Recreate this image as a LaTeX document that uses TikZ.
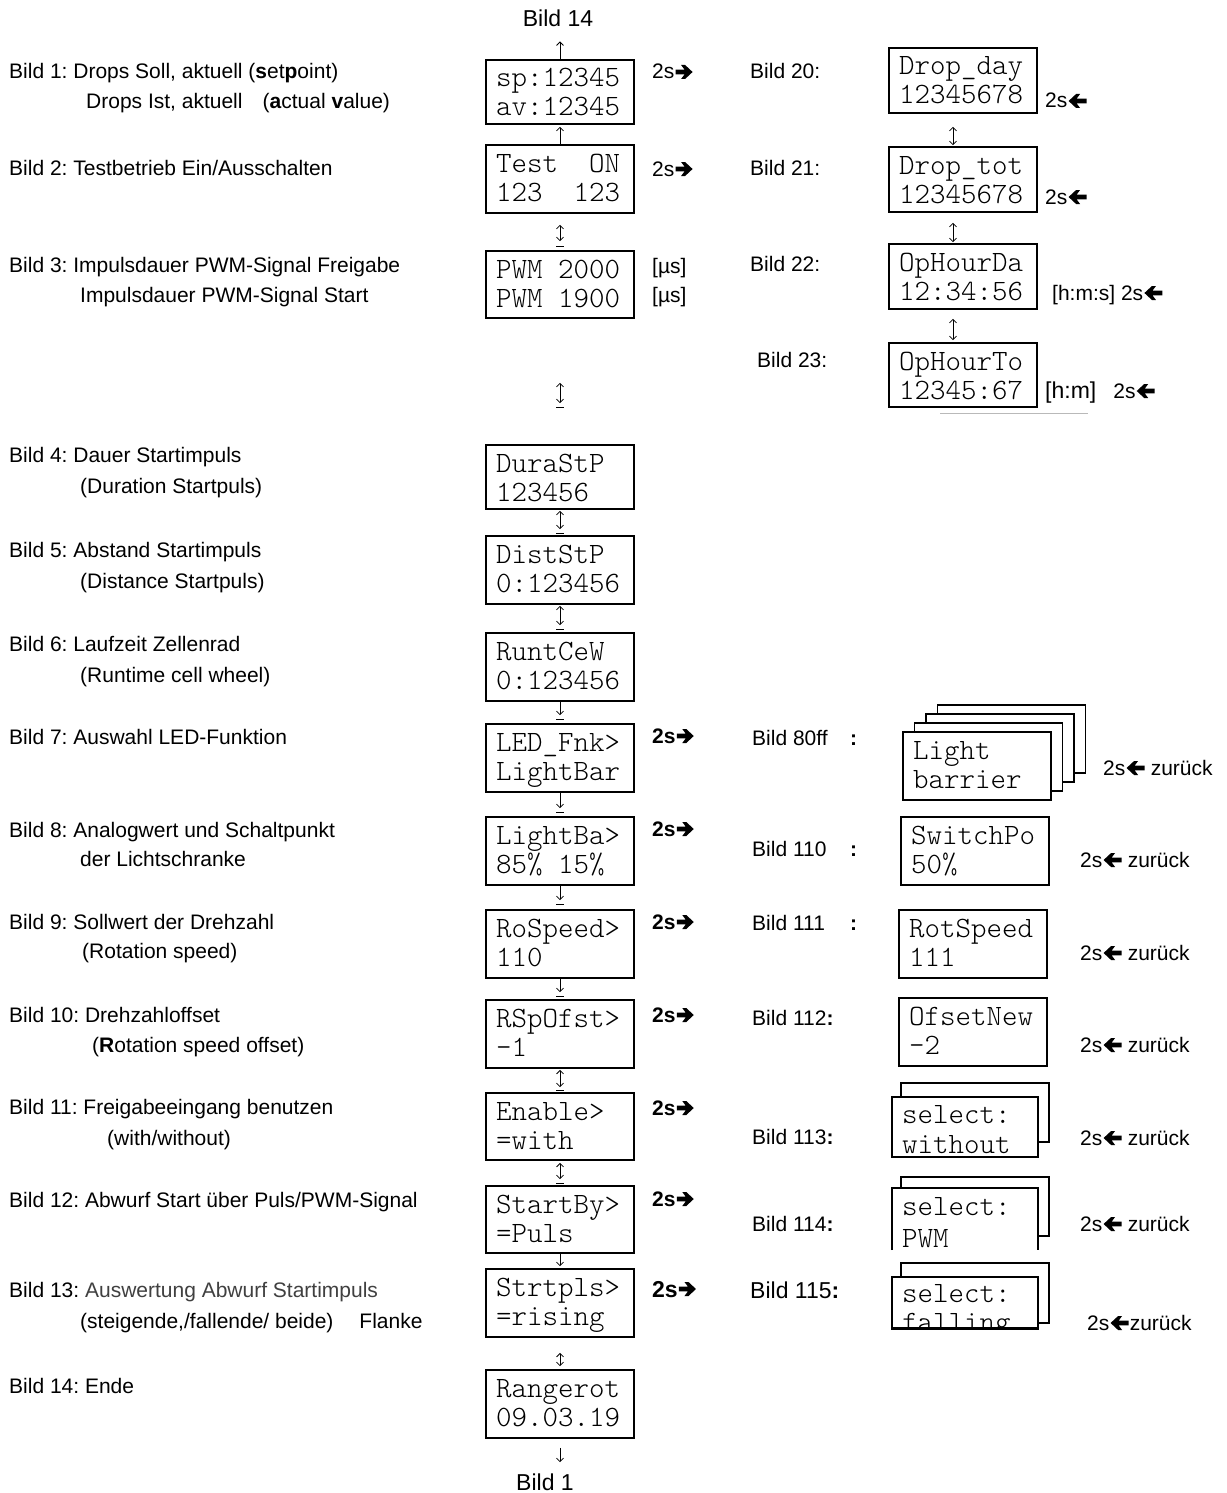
\documentclass[tikz,border=0pt]{standalone}
\usepackage{fontspec}
\setmainfont{Liberation Sans}
\newfontfamily\lcdfont{Latin Modern Mono Light}
\usetikzlibrary{arrows.meta,fit,calc}
\definecolor{greytxt}{RGB}{64,64,64}
\definecolor{lightline}{RGB}{185,185,185}
\newcommand{\mklcd}[7]{%
  \node[lcdbox, fit={(#2,#3) (#4,#5)}] (#1) {};
  \node[lcdtext] (#1t) at ($(#2,#3)+(10,27)$) {#6};
  \node[lcdtext] (#1u) at ($(#2,#3)+(10,56)$) {#7};}
\newcommand{\ulbar}[2]{\draw[vline] (#1-4,#2) -- (#1+4,#2);}
\begin{document}
\frenchspacing
\begin{tikzpicture}[x=1pt,y=-1pt,
  lcdbox/.style={draw, line width=1.7pt, fill=white, inner sep=0pt},
  backbox/.style={draw, line width=1.4pt, fill=white, inner sep=0pt},
  lcdtext/.style={anchor=base west, inner sep=0pt, font=\fontsize{29.5}{32}\selectfont\lcdfont},
  lbl/.style={anchor=base west, inner sep=0pt, font=\fontsize{21}{24}\selectfont},
  note/.style={anchor=base west, inner sep=0pt, font=\fontsize{21}{24}\selectfont},
  bnote/.style={anchor=base west, inner sep=0pt, font=\fontsize{21}{24}\selectfont\bfseries},
  vline/.style={line width=0.8pt},
  updown/.style={vline, {Straight Barb[length=3.5pt,width=7pt]}-{Straight Barb[length=3.5pt,width=7pt]}},
  down/.style={vline, -{Straight Barb[length=3.5pt,width=7pt]}},
  rarr/.pic={\fill (0,-2.3) -- (9,-2.3) -- (5.5,-7) -- (9.5,-7) -- (17,0) -- (9.5,7) -- (5.5,7) -- (9,2.3) -- (0,2.3) -- cycle;},
  larr/.pic={\fill (0,0) -- (7.5,-7) -- (11.5,-7) -- (8,-2.3) -- (18,-2.3) -- (18,2.3) -- (8,2.3) -- (11.5,7) -- (7.5,7) -- cycle;}
]
\fill[white] (0,0) rectangle (1226,1493);
\useasboundingbox (0,0) rectangle (1226,1493);

% ---------------- left labels ----------------
\node[lbl] (l1a) at (9,79) {Bild 1: Drops Soll, aktuell (\textbf{s}et\textbf{p}oint)};
\node[lbl] (l1b) at (86,109) {Drops Ist, aktuell\hspace{20pt}(\textbf{a}ctual \textbf{v}alue)};
\node[lbl] (l2) at (9,175) {Bild 2: Testbetrieb Ein/Ausschalten};
\node[lbl] (l3a) at (9,272) {Bild 3: Impulsdauer PWM-Signal Freigabe};
\node[lbl] (l3b) at (80,302) {Impulsdauer PWM-Signal Start};
\node[lbl] (l4a) at (9,462) {Bild 4: Dauer Startimpuls};
\node[lbl] (l4b) at (80,493) {(Duration Startpuls)};
\node[lbl] (l5a) at (9,557) {Bild 5: Abstand Startimpuls};
\node[lbl] (l5b) at (80,588) {(Distance Startpuls)};
\node[lbl] (l6a) at (9,651) {Bild 6: Laufzeit Zellenrad};
\node[lbl] (l6b) at (80,682) {(Runtime cell wheel)};
\node[lbl] (l7) at (9,744) {Bild 7: Auswahl LED-Funktion};
\node[lbl] (l8a) at (9,837) {Bild 8: Analogwert und Schaltpunkt};
\node[lbl] (l8b) at (80,866) {der Lichtschranke};
\node[lbl] (l9a) at (9,929) {Bild 9: Sollwert der Drehzahl};
\node[lbl] (l9b) at (82,958) {(Rotation speed)};
\node[lbl] (l10a) at (9,1022) {Bild 10: Drehzahloffset};
\node[lbl] (l10b) at (92,1052) {(\textbf{R}otation speed offset)};
\node[lbl] (l11a) at (9,1114) {Bild 11: Freigabeeingang benutzen};
\node[lbl] (l11b) at (107,1145) {(with/without)};
\node[lbl] (l12) at (9,1207) {Bild 12: Abwurf Start über Puls/PWM-Signal};
\node[lbl] (l13a) at (9,1297) {Bild 13: \textcolor{greytxt}{Auswertung Abwurf Startimpuls}};
\node[lbl] (l13b) at (80,1328) {(steigende,/fallende/ beide)\hspace{26pt}Flanke};
\node[lbl] (l14) at (9,1393) {Bild 14: Ende};

% ---------------- middle column ----------------
\node[anchor=base, inner sep=0pt, font=\fontsize{23}{26}\selectfont] (t14) at (558,27) {Bild 14};
\node[anchor=base, inner sep=0pt, font=\fontsize{23}{26}\selectfont] (tb1) at (545,1490) {Bild 1};

\mklcd{b1}{486}{60}{634}{124}{sp:12345}{av:12345}
\mklcd{b2}{486}{145}{634}{213}{Test~~ON}{123~~123}
\mklcd{b3}{486}{251}{634}{318}{PWM 2000}{PWM 1900}
\mklcd{b4}{486}{445}{634}{509}{DuraStP}{123456}
\mklcd{b5}{486}{536}{634}{604}{DistStP}{0:123456}
\mklcd{b6}{486}{633}{634}{701}{RuntCeW}{0:123456}
\mklcd{b7}{486}{724}{634}{792}{LED\_Fnk>}{LightBar}
\mklcd{b8}{486}{817}{634}{885}{LightBa>}{85\% 15\%}
\mklcd{b9}{486}{910}{634}{978}{RoSpeed>}{110}
\mklcd{b10}{486}{1000}{634}{1068}{RSpOfst>}{-1}
\mklcd{b11}{486}{1093}{634}{1160}{Enable>}{=with}
\mklcd{b12}{486}{1186}{634}{1253}{StartBy>}{=Puls}
\mklcd{b13}{486}{1269}{634}{1337}{Strtpls>}{=rising}
\mklcd{b14}{486}{1370}{634}{1438}{Rangerot}{09.03.19}

% connectors middle
\draw[down, shorten >=14pt] (b1.north) -- (b1.north |- t14.south);
\draw[down, shorten >=2pt] (b2.north) -- (b1.south);
\draw[updown, shorten <=11pt, shorten >=9pt] (b2.south) -- (b3.north);
\ulbar{560}{246}
\draw[updown, shorten <=64pt, shorten >=41pt] (b3.south) -- (b4.north);
\ulbar{560}{407}
\draw[updown, shorten <=1pt, shorten >=6pt] (b4.south) -- (b5.north);
\ulbar{560}{533}
\draw[updown, shorten <=1pt, shorten >=7pt] (b5.south) -- (b6.north);
\ulbar{560}{629}
\draw[down, shorten >=8pt] (b6.south) -- (b7.north);
\ulbar{560}{719}
\draw[down, shorten >=8pt] (b7.south) -- (b8.north);
\ulbar{560}{812}
\draw[down, shorten >=9pt] (b8.south) -- (b9.north);
\ulbar{560}{904}
\draw[down, shorten >=7pt] (b9.south) -- (b10.north);
\ulbar{560}{996}
\draw[updown, shorten <=1pt, shorten >=5pt] (b10.south) -- (b11.north);
\ulbar{560}{1090}
\draw[updown, shorten <=2pt, shorten >=6pt] (b11.south) -- (b12.north);
\ulbar{560}{1183}
\draw[down, shorten >=2pt] (b12.south) -- (b13.north);
\draw[updown, shorten <=15pt, shorten >=3pt] (b13.south) -- (b14.north);
\draw[down, shorten <=9pt, shorten >=11pt] (b14.south) -- (b14.south |- tb1.north);

% 2s arrows middle
\node[note] (m1) at (652,79) {2s};   \pic at ($(m1.base east)+(1,-7)$) {rarr};
\node[note] (m2) at (652,176) {2s};  \pic at ($(m2.base east)+(1,-7)$) {rarr};
\node[note] (mu1) at (652,273) {[µs]};
\node[note] (mu2) at (652,302) {[µs]};
\node[bnote] (m7) at (652,743) {2s};  \pic at ($(m7.base east)+(1,-7)$) {rarr};
\node[bnote] (m8) at (652,836) {2s};  \pic at ($(m8.base east)+(1,-7)$) {rarr};
\node[bnote] (m9) at (652,929) {2s};  \pic at ($(m9.base east)+(1,-7)$) {rarr};
\node[bnote] (m10) at (652,1022) {2s}; \pic at ($(m10.base east)+(1,-7)$) {rarr};
\node[bnote] (m11) at (652,1115) {2s}; \pic at ($(m11.base east)+(1,-7)$) {rarr};
\node[bnote] (m12) at (652,1206) {2s}; \pic at ($(m12.base east)+(1,-7)$) {rarr};
\node[bnote, font=\fontsize{23}{26}\selectfont\bfseries] (m13) at (652,1297) {2s}; \pic at ($(m13.base east)+(1,-8)$) {rarr};

% ---------------- right top column ----------------
\node[lbl] (r20l) at (750,79) {Bild 20:};
\node[lbl] (r21l) at (750,175) {Bild 21:};
\node[lbl] (r22l) at (750,271) {Bild 22:};
\node[lbl] (r23l) at (757,367) {Bild 23:};

\mklcd{r20}{889}{48}{1037}{113}{Drop\_day}{12345678}
\mklcd{r21}{889}{147}{1037}{212}{Drop\_tot}{12345678}
\mklcd{r22}{889}{244}{1037}{309}{OpHourDa}{12:34:56}
\mklcd{r23}{889}{343}{1037}{407}{OpHourTo}{12345:67}
\draw[lightline, line width=0.8pt] (940,413) -- (1088,413);

\draw[updown, shorten <=13pt, shorten >=1pt] ([xshift=-10pt]r20.south) -- ([xshift=-10pt]r21.north);
\draw[updown, shorten <=10pt, shorten >=1pt] ([xshift=-10pt]r21.south) -- ([xshift=-10pt]r22.north);
\draw[updown, shorten <=9pt, shorten >=2pt] ([xshift=-10pt]r22.south) -- ([xshift=-10pt]r23.north);

\node[note] (n20) at (1045,108) {2s}; \pic at ($(n20.base east)+(1,-7)$) {larr};
\node[note] (n21) at (1045,204) {2s}; \pic at ($(n21.base east)+(1,-7)$) {larr};
\node[note] (n22) at (1052,300) {[h:m:s] 2s}; \pic at ($(n22.base east)+(1,-7)$) {larr};
\node[note] (n23) at (1045,398) {{\fontsize{23}{26}\selectfont[h:m]}\hspace{17pt}2s}; \pic at ($(n23.base east)+(1,-7)$) {larr};

% ---------------- right lower column ----------------
\node[lbl] (r80l) at (752,745) {\makebox[98pt][l]{Bild 80ff}\textbf{:}};
\node[lbl] (r110l) at (752,856) {\makebox[98pt][l]{Bild 110}\textbf{:}};
\node[lbl] (r111l) at (752,930) {\makebox[98pt][l]{Bild 111}\textbf{:}};
\node[lbl] (r112l) at (752,1025) {Bild 112\textbf{:}};
\node[lbl] (r113l) at (752,1144) {Bild 113\textbf{:}};
\node[lbl] (r114l) at (752,1231) {Bild 114\textbf{:}};
\node[lbl, font=\fontsize{23}{26}\selectfont] (r115l) at (750,1298) {Bild 115\textbf{:}};

% stacked light barrier
\node[backbox, fit={(937.5,705) (1085.5,773)}] (r80c) {};
\node[backbox, fit={(926,714) (1074,782)}] (r80b) {};
\node[backbox, fit={(914.5,723) (1062.5,791)}] (r80a) {};
\mklcd{r80}{903}{732}{1051}{800}{Light}{barrier}

\mklcd{r110}{901}{817}{1049}{885}{SwitchPo}{50\%}
\mklcd{r111}{899}{910}{1047}{978}{RotSpeed}{111}
\mklcd{r112}{899}{998}{1047}{1066}{OfsetNew}{-2}

% Bild 113
\node[backbox, fit={(901,1083) (1049,1142)}] (r113b) {};
\node[lcdbox, fit={(892,1097) (1038,1157)}] (r113) {};
\begin{scope}
  \clip (892,1097) rectangle (1038,1157);
  \node[lcdtext] (r113t) at (902,1123) {select:};
  \node[lcdtext] (r113u) at (902,1153) {without};
\end{scope}

% Bild 114
\node[backbox, fit={(901,1177) (1049,1236)}] (r114b) {};
\node[fill=white, inner sep=0pt, fit={(892,1188) (1038,1250)}] (r114) {};
\draw[line width=1.7pt] (r114.south west) -- (r114.north west) -- (r114.north east) -- (r114.south east);
\begin{scope}
  \clip (892,1188) rectangle (1038,1248);
  \node[lcdtext] (r114t) at (902,1215) {select:};
  \node[lcdtext] (r114u) at (902,1247) {PWM};
\end{scope}

% Bild 115
\node[backbox, fit={(901,1263) (1049,1323)}] (r115b) {};
\node[lcdbox, fit={(892,1277) (1038,1328)}] (r115) {};
\begin{scope}
  \clip (892,1277) rectangle (1038,1328);
  \node[lcdtext] (r115t) at (902,1302) {select:};
  \node[lcdtext] (r115u) at (902,1331) {falling};
\end{scope}
\draw[line width=1.7pt] (r115.south west) -- (r115.south east);

% zurueck notes
\node[note] (z80) at (1103,775) {2s}; \pic at ($(z80.base east)+(1,-7)$) {larr};
\node[note] (z80b) at ($(z80.base east)+(25,0)$) {zurück};
\node[note] (z110) at (1080,867) {2s}; \pic at ($(z110.base east)+(1,-7)$) {larr};
\node[note] (z110b) at ($(z110.base east)+(25,0)$) {zurück};
\node[note] (z111) at (1080,960) {2s}; \pic at ($(z111.base east)+(1,-7)$) {larr};
\node[note] (z111b) at ($(z111.base east)+(25,0)$) {zurück};
\node[note] (z112) at (1080,1052) {2s}; \pic at ($(z112.base east)+(1,-7)$) {larr};
\node[note] (z112b) at ($(z112.base east)+(25,0)$) {zurück};
\node[note] (z113) at (1080,1145) {2s}; \pic at ($(z113.base east)+(1,-7)$) {larr};
\node[note] (z113b) at ($(z113.base east)+(25,0)$) {zurück};
\node[note] (z114) at (1080,1231) {2s}; \pic at ($(z114.base east)+(1,-7)$) {larr};
\node[note] (z114b) at ($(z114.base east)+(25,0)$) {zurück};
\node[note] (z115) at (1087,1330) {2s}; \pic at ($(z115.base east)+(1,-7)$) {larr};
\node[note] (z115b) at ($(z115.base east)+(20,0)$) {zurück};
\end{tikzpicture}
\end{document}
